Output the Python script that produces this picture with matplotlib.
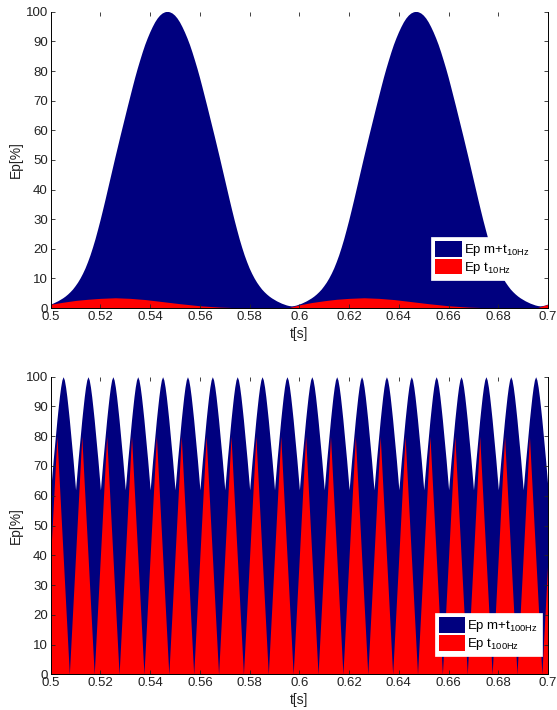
import numpy as np
import matplotlib
matplotlib.use('Agg')
from matplotlib import pyplot as plt

plt.rcParams['font.family'] = ['Liberation Sans', 'DejaVu Sans']
plt.rcParams['mathtext.fontset'] = 'custom'
plt.rcParams['mathtext.rm'] = 'Liberation Sans'

# top plot, 10 Hz: values
# blue: bell around each peak, value vs distance from the peak (s)
peak_times_10 = [0.547, 0.647, 0.747]
bell_d = [0.000, 0.001, 0.002, 0.003, 0.004, 0.005, 0.006, 0.007, 0.008, 0.009,
          0.010, 0.011, 0.012, 0.013, 0.014, 0.015, 0.016, 0.017, 0.018, 0.019,
          0.020, 0.021, 0.022, 0.023, 0.024, 0.025, 0.026, 0.027, 0.028, 0.029,
          0.030, 0.031, 0.032, 0.033, 0.034, 0.035, 0.036, 0.037, 0.038, 0.039,
          0.040, 0.041, 0.042, 0.043, 0.044, 0.045, 0.046, 0.047, 0.048, 0.049,
          0.050]
bell_val = [100, 99.8, 99.4, 98.7, 97.7, 96.4, 94.8, 93.0, 91.0, 88.8,
            86.3, 83.6, 80.8, 77.8, 74.6, 71.3, 68.0, 64.6, 61.2, 57.8,
            54.3, 50.8, 47.2, 43.6, 40.0, 36.4, 32.9, 29.5, 26.3, 23.2,
            20.4, 17.8, 15.5, 13.4, 11.6, 10.0, 8.6, 7.4, 6.3, 5.4,
            4.6, 3.9, 3.3, 2.8, 2.3, 1.9, 1.5, 1.2, 0.9, 0.7,
            0.6]

# red: small hump
t_top_red = [0.500, 0.505, 0.510, 0.515, 0.520, 0.526, 0.532, 0.538, 0.545, 0.552,
             0.560, 0.568, 0.577, 0.587, 0.595,
             0.600, 0.605, 0.610, 0.615, 0.620, 0.626, 0.632, 0.638, 0.645, 0.652,
             0.660, 0.668, 0.677, 0.687, 0.695, 0.700]
ep_t_10 = [1.3, 2.0, 2.6, 3.0, 3.3, 3.5, 3.3, 2.9, 2.2, 1.5,
           0.8, 0.35, 0.1, 0.0, 0.0,
           1.1, 1.9, 2.5, 3.0, 3.3, 3.5, 3.3, 2.9, 2.2, 1.5,
           0.8, 0.35, 0.1, 0.0, 0.0, 1.3]

# bottom plot, 100 Hz
# blue: one period, starting at each trough
period_starts = [0.50, 0.51, 0.52, 0.53, 0.54, 0.55, 0.56, 0.57, 0.58, 0.59,
                 0.60, 0.61, 0.62, 0.63, 0.64, 0.65, 0.66, 0.67, 0.68, 0.69]
shape_dt = [0.000, 0.0005, 0.001, 0.0015, 0.002, 0.0025, 0.003, 0.0035, 0.004,
            0.0045, 0.005, 0.0055, 0.006, 0.0065, 0.007, 0.0075, 0.008, 0.0085,
            0.009, 0.0095]
shape_val = [62, 67, 72, 76.5, 81, 85.5, 89.5, 93.3, 96.5,
             98.9, 100, 98.9, 96.5, 93.3, 89.5, 85.5, 81, 76.5,
             72, 67]

# red: triangle corners
t_red_100 = [0.500,
             0.5025, 0.5075, 0.5125, 0.5175, 0.5225, 0.5275, 0.5325, 0.5375,
             0.5425, 0.5475, 0.5525, 0.5575, 0.5625, 0.5675, 0.5725, 0.5775,
             0.5825, 0.5875, 0.5925, 0.5975, 0.6025, 0.6075, 0.6125, 0.6175,
             0.6225, 0.6275, 0.6325, 0.6375, 0.6425, 0.6475, 0.6525, 0.6575,
             0.6625, 0.6675, 0.6725, 0.6775, 0.6825, 0.6875, 0.6925, 0.6975,
             0.700]
ep_t_100 = [40,
            80, 0, 80, 0, 80, 0, 80, 0,
            80, 0, 80, 0, 80, 0, 80, 0,
            80, 0, 80, 0, 80, 0, 80, 0,
            80, 0, 80, 0, 80, 0, 80, 0,
            80, 0, 80, 0, 80, 0, 80, 0,
            40]

# build the top blue outline: each bell mirrored around its peak
pts = []
for p in peak_times_10:
    for d, v in zip(bell_d, bell_val):
        pts.append((p - d, v))
        pts.append((p + d, v))
pts.sort()
t_top = [a for a, b in pts]
ep_mt_10 = [b for a, b in pts]

t_bot = []
ep_mt_100 = []
for s in period_starts:
    for dt, v in zip(shape_dt, shape_val):
        t_bot.append(s + dt)
        ep_mt_100.append(v)
t_bot.append(0.70)
ep_mt_100.append(62)

blue = '#00007f'
red = '#ff0000'

fig = plt.figure(figsize=(5.57, 7.10), dpi=100)
ax1 = fig.add_axes([0.091, 0.566, 0.893, 0.4175])
ax2 = fig.add_axes([0.091, 0.0503, 0.893, 0.4191])


def style(ax, sub, anchor):
    ax.set_xlim(0.5, 0.7)
    ax.set_ylim(0, 100)
    ax.set_xticks([0.5, 0.52, 0.54, 0.56, 0.58, 0.6, 0.62, 0.64, 0.66, 0.68, 0.7])
    ax.set_xticklabels(['0.5', '0.52', '0.54', '0.56', '0.58', '0.6', '0.62',
                        '0.64', '0.66', '0.68', '0.7'])
    ax.set_yticks(range(0, 101, 10))
    ax.tick_params(direction='in', top=True, right=True, length=3, width=0.6,
                   labelsize=9.5, pad=2, colors='#222222')
    ax.spines['top'].set_visible(False)
    for s in ['left', 'right', 'bottom']:
        ax.spines[s].set_linewidth(0.7)
    ax.set_xlabel('t[s]', fontsize=10, labelpad=3, color='#222222')
    ax.set_ylabel('Ep[%]', fontsize=10, labelpad=2, color='#222222')
    leg = ax.legend(['Ep m+t$_{\\mathregular{' + sub + '}}$',
                     'Ep t$_{\\mathregular{' + sub + '}}$'],
                    loc='lower right', bbox_to_anchor=anchor, fontsize=9.5,
                    handlelength=2.0, handleheight=1.45, labelspacing=0.05,
                    handletextpad=0.15, borderpad=0.3, borderaxespad=0,
                    fancybox=False, framealpha=1, edgecolor='white')
    leg.get_frame().set_linewidth(0.5)


ax1.fill_between(t_top, 0, ep_mt_10, color=blue, lw=0)
ax1.fill_between(t_top_red, 0, ep_t_10, color=red, lw=0)
style(ax1, '10Hz', (0.97, 0.095))

ax2.fill_between(t_bot, 0, ep_mt_100, color=blue, lw=0)
ax2.fill_between(t_red_100, 0, ep_t_100, color=red, lw=0)
style(ax2, '100Hz', (0.988, 0.061))

fig.savefig('out.png', dpi=100)
